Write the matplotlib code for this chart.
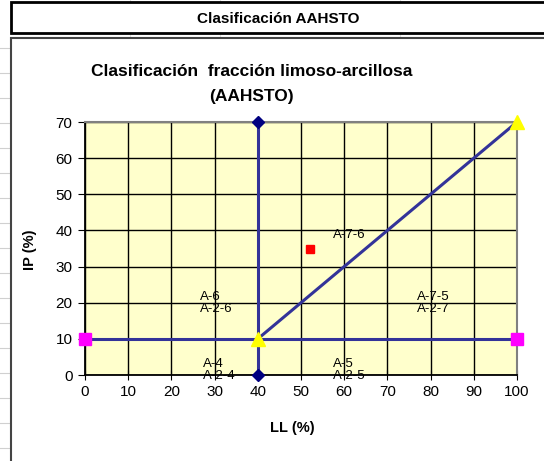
import matplotlib.pyplot as plt
from matplotlib.patches import Rectangle
from matplotlib.lines import Line2D

plt.rcParams['font.family'] = ['Liberation Sans', 'DejaVu Sans']

# boundary lines of the chart (LL, IP)
ll_vertical = [40, 40]
ip_vertical = [0, 70]
ll_horizontal = [0, 100]
ip_horizontal = [10, 10]
ll_aline = [40, 100]
ip_aline = [10, 70]

# sample point
ll_sample = [52]
ip_sample = [35]

# zone labels
zone_text = ["A-6\nA-2-6", "A-4\nA-2-4", "A-7-6", "A-7-5\nA-2-7", "A-5\nA-2-5"]
zone_ll = [26.6, 27.2, 57.4, 76.9, 57.4]
zone_ip = [19.9, 1.4, 38.7, 19.9, 1.4]

x_ticks = list(range(0, 101, 10))
y_ticks = list(range(0, 71, 10))

W, H = 544, 461
fig = plt.figure(figsize=(W / 100, H / 100), dpi=100)
fig.patch.set_facecolor('white')

# spreadsheet background: grid lines on the left margin
for y in range(48, H, 25):
    fig.add_artist(Line2D([0, 10 / W], [1 - y / H, 1 - y / H], color='#d0d0d0', lw=0.8,
                          zorder=-10))
for x in [130, 220, 400]:
    fig.add_artist(Line2D([x / W, x / W], [1 - 33 / H, 1 - 38 / H], color='#e0e0e0', lw=0.8,
                          zorder=-10))
    fig.add_artist(Line2D([x / W, x / W], [1, 1 - 3 / H], color='#e0e0e0', lw=0.8,
                          zorder=-10))

# header cell
fig.add_artist(Rectangle((11 / W, 1 - 33 / H), 1, 31 / H, transform=fig.transFigure,
                         facecolor='white', edgecolor='black', lw=2, zorder=-5))
fig.text(278 / W, 1 - 19 / H, "Clasificación AAHSTO", ha='center', va='center',
         fontsize=11, fontweight='bold')

# chart area
fig.add_artist(Rectangle((11 / W, -0.1), 1, 1.1 - 38 / H, transform=fig.transFigure,
                         facecolor='white', edgecolor='#444444', lw=1.5, zorder=-5))

fig.text(252 / W, 1 - 72 / H, "Clasificación  fracción limoso-arcillosa", ha='center',
         va='center', fontsize=12.5, fontweight='bold')
fig.text(251 / W, 1 - 96 / H, "(AAHSTO)", ha='center', va='center',
         fontsize=12.5, fontweight='bold')

ax = fig.add_axes([85 / W, 1 - 375 / H, (517 - 85) / W, (375 - 122) / H])
ax.set_facecolor('#FFFFCC')
ax.set_xlim(0, 100)
ax.set_ylim(0, 70)
ax.set_xticks(x_ticks)
ax.set_yticks(y_ticks)
ax.grid(True, color='black', lw=1)
ax.set_axisbelow(True)
for s in ['top', 'right']:
    ax.spines[s].set_color('#808080')
    ax.spines[s].set_linewidth(1.5)
for s in ['left', 'bottom']:
    ax.spines[s].set_color('black')
    ax.spines[s].set_linewidth(1.3)
ax.tick_params(axis='x', direction='inout', length=7, labelsize=11, pad=4)
ax.tick_params(axis='y', direction='out', length=5, labelsize=11, pad=4)

line_color = '#333399'
ax.plot(ll_vertical, ip_vertical, color=line_color, lw=2.2, marker='D', ms=6.5,
        mfc='#000080', mec='#000080', clip_on=False, zorder=3)
ax.plot(ll_horizontal, ip_horizontal, color=line_color, lw=2.2, marker='s', ms=8.5,
        mfc='#FF00FF', mec='#FF00FF', clip_on=False, zorder=3)
ax.plot(ll_aline, ip_aline, color=line_color, lw=2.2, marker='^', ms=9.5,
        mfc='#FFFF00', mec='#FFFF00', clip_on=False, zorder=4)
ax.plot(ll_sample, ip_sample, ls='none', marker='s', ms=6, mfc='#FF0000', mec='#FF0000',
        zorder=5)

for t, x, y in zip(zone_text, zone_ll, zone_ip):
    ax.text(x, y, t, ha='left', va='center', fontsize=9.5, linespacing=1.05, zorder=6,
            clip_on=False)

ax.set_xlabel("LL (%)", fontsize=10.5, fontweight='bold')
ax.set_ylabel("IP (%)", fontsize=10.5, fontweight='bold')
ax.xaxis.set_label_coords(0.48, -0.182)
ax.yaxis.set_label_coords(-0.112, 0.494)

fig.savefig("out.png", dpi=100)
